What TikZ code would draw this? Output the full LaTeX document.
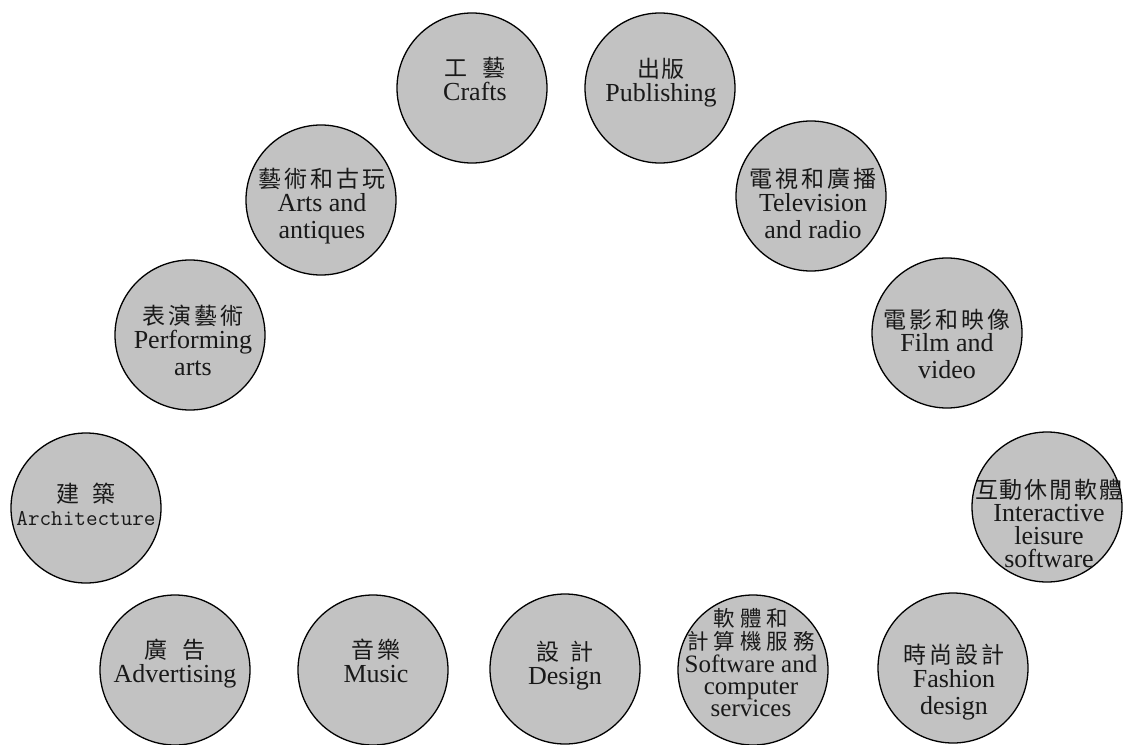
\documentclass[tikz,border=0pt]{standalone}
\usepackage{fontspec}
\setmainfont{Liberation Serif}
\newfontfamily\cjkf{Noto Sans CJK TC}
\newcommand\zh[1]{{\cjkf\fontsize{23}{27}\selectfont #1}}
\newcommand\zhs[1]{{\cjkf\fontsize{21.5}{22}\selectfont #1}}
\newcommand\gk{\kern3pt}
\newcommand\gsp{\kern2pt}
\AtBeginDocument{\setlength{\lineskiplimit}{-100pt}}
\definecolor{circfill}{RGB}{194,194,194}
\definecolor{txt}{RGB}{25,25,25}
\tikzset{
  circ/.style={circle, draw=black, line width=1.3pt, fill=circfill, minimum size=150pt, inner sep=0pt},
  lbl/.style={align=center, inner sep=0pt, text depth=0pt, text=txt,
    font=\fontsize{26}{27}\selectfont},
  lbltight/.style={lbl, font=\fontsize{25}{22}\selectfont}
}
\begin{document}
\begin{tikzpicture}[x=1pt,y=-1pt]
\useasboundingbox (0,0) rectangle (1124,744);
% circles
\node[circ] (crafts) at (472,88) {};
\node[circ] (publishing) at (660,88) {};
\node[circ] (arts) at (321,200) {};
\node[circ] (tv) at (811,196) {};
\node[circ] (perf) at (190,335) {};
\node[circ] (film) at (947,333) {};
\node[circ] (arch) at (86,508) {};
\node[circ] (inter) at (1047,507) {};
\node[circ] (adv) at (175,670) {};
\node[circ] (music) at (373,670) {};
\node[circ] (design) at (565,669) {};
\node[circ] (soft) at (753,670) {};
\node[circ] (fashion) at (953,668) {};
% labels
\node[lbl] (craftsT) at ([shift={(3,-9)}]crafts.center) {\zh{工\kern15pt 藝}\\[-3pt]Crafts};
\node[lbl] (publishingT) at ([shift={(1,-8)}]publishing.center) {\zh{出\gsp 版}\\[-3pt]Publishing};
\node[lbl] (artsT) at ([shift={(1,3)}]arts.center) {\zh{藝\gk 術\gk 和\gk 古\gk 玩}\\[-3pt]Arts and\\antiques};
\node[lbl] (tvT) at ([shift={(2,7)}]tv.center) {\zh{電\gk 視\gk 和\gk 廣\gk 播}\\[-3pt]Television\\and radio};
\node[lbl] (perfT) at ([shift={(3,5)}]perf.center) {\zh{表\gk 演\gk 藝\gk 術}\\[-3pt]Performing\\arts};
\node[lbl] (filmT) at ([shift={(0,11)}]film.center) {\zh{電\gk 影\gk 和\gk 映\gk 像}\\[-4pt]Film and\\video};
\node[lbl] (archT) at ([shift={(0,-4)}]arch.center) {\zh{建\kern14pt 築}\\[-4pt]{\ttfamily\fontsize{22.5}{27}\selectfont Architecture}};
\node[lbl] (interT) at ([shift={(2,16)}]inter.center) {\zh{互\gsp 動\gsp 休\gsp 閒\gsp 軟\gsp 體}\\[-4pt]Interactive\\[-4pt]leisure\\[-4pt]software};
\node[lbl] (advT) at ([shift={(0,-9)}]adv.center) {\zh{廣\kern16pt 告}\\[-3pt]Advertising};
\node[lbl] (musicT) at ([shift={(3,-9)}]music.center) {\zh{音\kern4pt 樂}\\[-3pt]Music};
\node[lbl] (designT) at ([shift={(0,-6)}]design.center) {\zh{設\kern12pt 計}\\[-3pt]Design};
\node[lbltight] (softT) at ([shift={(-2,-8)}]soft.center) {\zhs{軟\kern5pt 體\kern5pt 和}\\[1pt]\zhs{計\kern5pt 算\kern5pt 機\kern5pt 服\kern5pt 務}\\[1pt]Software and\\[0pt]computer\\[0pt]services};
\node[lbl] (fashionT) at ([shift={(1,11)}]fashion.center) {\zh{時\gk 尚\gk 設\gk 計}\\[-3pt]Fashion\\design};
\end{tikzpicture}
\end{document}
